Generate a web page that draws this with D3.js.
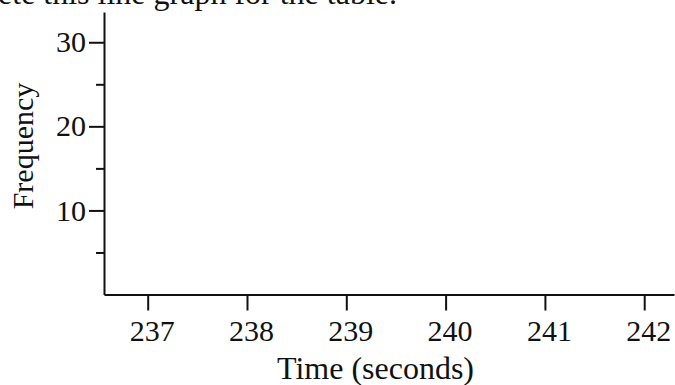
<!DOCTYPE html>
<html>
<head>
<meta charset="utf-8">
<script src="https://cdn.jsdelivr.net/npm/d3@7"></script>
<style>
  html, body { margin: 0; padding: 0; background: #fff; }
  svg { display: block; }
  text { font-family: "Liberation Serif", "Times New Roman", serif; fill: #111; }
</style>
</head>
<body>
<svg id="chart" width="675" height="385"></svg>
<script>
// Data
const xTicks = [237, 238, 239, 240, 241, 242];
const yMajorTicks = [10, 20, 30];
const yMinorTicks = [5, 15, 25];
const xDomain = [236.56, 242.3];
const yDomain = [0, 33.6];
const series = []; // empty line graph (to be completed)
const titleText = "Complete this line graph for the table.";
const xLabel = "Time (seconds)";
const yLabel = "Frequency";

const svg = d3.select("#chart");
const x = d3.scaleLinear().domain(xDomain).range([104, 674]);
const y = d3.scaleLinear().domain(yDomain).range([294.5, 12]);

// title (cut off at the top, as in the source)
svg.append("text").attr("x", 397).attr("y", 4).attr("text-anchor", "end")
  .attr("font-size", 32).text(titleText);

// x axis
const gx = svg.append("g").attr("transform", `translate(0,${y(0)})`)
  .call(d3.axisBottom(x).tickValues(xTicks).tickFormat(d3.format("d"))
    .tickSize(16).tickSizeOuter(0).tickPadding(9));
gx.selectAll("text").attr("font-size", 30).attr("dx", 4)
  .attr("font-family", "Liberation Serif").attr("fill", "#111");

// y axis major
const gy = svg.append("g").attr("transform", `translate(${x(xDomain[0])},0)`)
  .call(d3.axisLeft(y).tickValues(yMajorTicks).tickFormat(d3.format("d"))
    .tickSize(15).tickSizeOuter(0).tickPadding(3));
gy.selectAll("text").attr("font-size", 30).attr("font-family", "Liberation Serif").attr("fill", "#111");
// y axis minor
const gym = svg.append("g").attr("transform", `translate(${x(xDomain[0])},0)`)
  .call(d3.axisLeft(y).tickValues(yMinorTicks).tickFormat("")
    .tickSize(8).tickSizeOuter(0));
gym.select(".domain").remove();

svg.selectAll(".domain, .tick line").attr("stroke", "#111").attr("stroke-width", 2);

// lines (none plotted)
svg.append("path").datum(series).attr("fill", "none").attr("stroke", "#111")
  .attr("d", d3.line().x(d => x(d.t)).y(d => y(d.f)));

// axis labels
svg.append("text").attr("x", 375.5).attr("y", 379).attr("text-anchor", "middle")
  .attr("font-size", 32).text(xLabel);
svg.append("text").attr("transform", "translate(33,146) rotate(-90)")
  .attr("text-anchor", "middle").attr("font-size", 30).text(yLabel);
</script>
</body>
</html>
